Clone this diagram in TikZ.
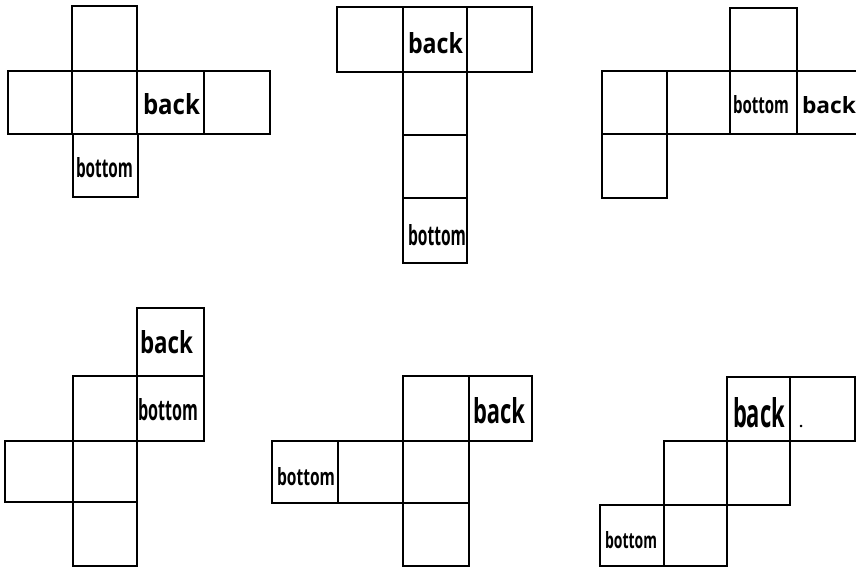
\documentclass[tikz,border=0pt]{standalone}
\usepackage{fontspec}
\setmainfont{Open Sans}
\usepackage{graphicx}
\tikzset{
  edge/.style={line width=2.3pt, line join=miter, black},
  lbl/.style={anchor=base west, inner sep=0pt, outer sep=0pt, font=\normalsize},
}
% label: name, x, baseline y, width, height, text
\newcommand{\Lbl}[6]{\node[lbl] (#1) at (#2,#3) {\resizebox{#4pt}{#5pt}{\bfseries #6}};}
\begin{document}
\begin{tikzpicture}[x=1pt,y=-1pt]
\useasboundingbox (0,0) rectangle (856,568);
% ---------- Net 1 ----------
\draw[edge] (72,6) rectangle (137,71);
\draw[edge] (8,71) rectangle (72,134);
\draw[edge] (72,71) rectangle (137,134);
\draw[edge] (137,71) rectangle (204,134);
\draw[edge] (204,71) rectangle (270,134);
\draw[edge] (73,134) rectangle (138,197);
\Lbl{n1back}{143}{114}{57}{21}{back}
\Lbl{n1bottom}{76}{177}{57}{20}{bottom}
% ---------- Net 2 ----------
\draw[edge] (337,7) rectangle (403,72);
\draw[edge] (403,7) rectangle (467,72);
\draw[edge] (467,7) rectangle (532,72);
\draw[edge] (403,72) rectangle (467,135);
\draw[edge] (403,135) rectangle (467,198);
\draw[edge] (403,198) rectangle (467,263);
\Lbl{n2back}{408}{53}{55}{21}{back}
\Lbl{n2bottom}{408}{245}{58}{21}{bottom}
% ---------- Net 3 ----------
\draw[edge] (730,8) rectangle (797,71);
\draw[edge] (602,71) rectangle (667,134);
\draw[edge] (667,71) rectangle (730,134);
\draw[edge] (730,71) rectangle (797,134);
\draw[edge] (797,71) -- (856,71);
\draw[edge] (797,134) -- (856,134);
\draw[edge] (602,134) rectangle (667,198);
\Lbl{n3bottom}{733}{113}{56}{18}{bottom}
\Lbl{n3back}{802}{113}{54}{17}{back}
% ---------- Net 4 ----------
\draw[edge] (137,308) rectangle (204,376);
\draw[edge] (73,376) rectangle (137,441);
\draw[edge] (137,376) rectangle (204,441);
\draw[edge] (5,441) rectangle (73,502);
\draw[edge] (73,441) rectangle (137,502);
\draw[edge] (73,502) rectangle (137,566);
\Lbl{n4back}{140}{353}{53}{23}{back}
\Lbl{n4bottom}{138}{420}{60}{22}{bottom}
% ---------- Net 5 ----------
\draw[edge] (403,376) rectangle (469,441);
\draw[edge] (469,376) rectangle (532,441);
\draw[edge] (272,441) rectangle (338,503);
\draw[edge] (338,441) rectangle (403,503);
\draw[edge] (403,441) rectangle (469,503);
\draw[edge] (403,503) rectangle (469,566);
\Lbl{n5back}{473}{423}{52}{26}{back}
\Lbl{n5bottom}{277}{485}{58}{18}{bottom}
% ---------- Net 6 ----------
\draw[edge] (727,377) rectangle (790,441);
\draw[edge] (790,377) rectangle (855,441);
\draw[edge] (664,441) rectangle (727,505);
\draw[edge] (727,441) rectangle (790,505);
\draw[edge] (600,505) rectangle (664,566);
\draw[edge] (664,505) rectangle (727,566);
\Lbl{n6back}{733}{427}{52}{30}{back}
\node[lbl, font=\Large\bfseries] (n6dot) at (799,427) {.};
\Lbl{n6bottom}{605}{548}{52}{17}{bottom}
\end{tikzpicture}
\end{document}
